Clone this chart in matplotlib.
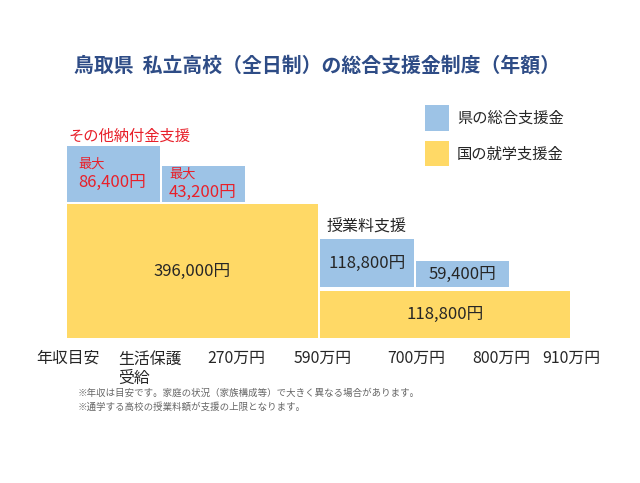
import matplotlib.pyplot as plt
from matplotlib.patches import Rectangle

plt.rcParams['font.family'] = ['Noto Sans CJK JP', 'DejaVu Sans']

# 年収の区切り（横軸ラベル）
bracket_labels = ["年収目安", "生活保護\n受給", "270万円", "590万円", "700万円", "800万円", "910万円"]

# 国の就学支援金（円）: 〜590万円 / 590〜910万円
kuni_amounts = [396000, 118800]
kuni_cols = [(0, 3), (3, 6)]

# 県の総合支援金 授業料支援（円）: 590〜700万円 / 700〜800万円
ken_tuition = [118800, 59400]
ken_tuition_cols = [(3, 4), (4, 5)]

# 県の総合支援金 その他納付金支援（円、最大）: 生活保護 / 〜270万円
ken_other = [86400, 43200]
ken_other_cols = [(0, 1), (1, 2)]

# --- layout (pixel units of the 640x483 canvas) ---
col_edges = [67, 161, 246, 319, 415, 510, 570]
label_x = [68, 118, 236, 323, 416.5, 501.5, 571]
baseline = 338
kuni_h = [134, 47]
tuition_h = [48, 26]
other_h = [56, 36]
other_pad = [11, 7]
other_text_dy = [19, 9]

BLUE = '#9DC3E6'
YELLOW = '#FFD966'
RED = '#E8202A'
TXT = '#262626'


def span(c0, c1):
    left = col_edges[c0] + (1 if c0 > 0 else 0)
    right = col_edges[c1] - (1 if c1 < len(col_edges) - 1 else 0)
    return left, right - left


def fmt(v):
    return f"{v:,}円"


fig = plt.figure(figsize=(6.4, 4.83), dpi=100)
ax = fig.add_axes([0, 0, 1, 1])
ax.set_xlim(0, 640)
ax.set_ylim(483, 0)
ax.axis('off')

# 国の就学支援金
kuni_tops = []
for amt, (c0, c1), h in zip(kuni_amounts, kuni_cols, kuni_h):
    left, w = span(c0, c1)
    top = baseline - h
    kuni_tops.append(top)
    ax.bar(left, h, width=w, bottom=top, align='edge', color=YELLOW, linewidth=0)
    ax.text(left + w / 2, top + h / 2, fmt(amt), ha='center', va='center',
            fontsize=12, color=TXT)

# 授業料支援
for amt, (c0, c1), h in zip(ken_tuition, ken_tuition_cols, tuition_h):
    left, w = span(c0, c1)
    bottom = kuni_tops[1] - 4
    ax.bar(left, h, width=w, bottom=bottom - h, align='edge', color=BLUE, linewidth=0)
    ax.text(left + w / 2, bottom - h / 2, fmt(amt), ha='center', va='center',
            fontsize=12, color=TXT)

# その他納付金支援
for amt, (c0, c1), h, pad, dy in zip(ken_other, ken_other_cols, other_h, other_pad, other_text_dy):
    left, w = span(c0, c1)
    bottom = kuni_tops[0] - 2.5
    top = bottom - h
    ax.bar(left, h, width=w, bottom=top, align='edge', color=BLUE, linewidth=0)
    ax.text(left + pad, top + dy, "最大", ha='left', va='center', fontsize=9.5, color=RED)
    ax.text(left + pad, top + dy + 18.3, fmt(amt), ha='left', va='center', fontsize=12, color=RED)

ax.text(68, 136.7, "その他納付金支援", ha='left', va='center', fontsize=11, color=RED)
ax.text(327, 226.7, "授業料支援", ha='left', va='center', fontsize=11.5, color=TXT)

# 横軸ラベル
for x, lab in zip(label_x, bracket_labels):
    if "\n" in lab:
        ax.text(x, 369, lab, ha='left', va='center', fontsize=11.4, color=TXT,
                linespacing=1.15)
    else:
        ax.text(x, 358, lab, ha='center', va='center', fontsize=11.4, color=TXT)

# 凡例
legend_items = [("県の総合支援金", BLUE), ("国の就学支援金", YELLOW)]
for k, (name, c) in enumerate(legend_items):
    y0 = 105 + k * 35.7
    ax.add_patch(Rectangle((425, y0), 24, 25.5, color=c, linewidth=0))
    ax.text(457, y0 + 13.5, name, ha='left', va='center', fontsize=11, color=TXT)

# タイトル
ax.text(74, 65, "鳥取県  私立高校（全日制）の総合支援金制度（年額）", ha='left', va='center',
        fontsize=14.3, fontweight='bold', color='#2E4C86')

# 注記
ax.text(78, 393.3, "※年収は目安です。家庭の状況（家族構成等）で大きく異なる場合があります。",
        ha='left', va='center', fontsize=6.8, color='#666666')
ax.text(78, 406.7, "※通学する高校の授業料額が支援の上限となります。",
        ha='left', va='center', fontsize=6.8, color='#666666')

fig.savefig("out.png", dpi=100)
